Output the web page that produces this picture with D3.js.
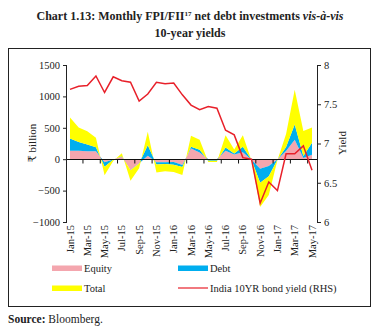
<!DOCTYPE html>
<html>
<head>
<meta charset="utf-8">
<script src="https://cdn.jsdelivr.net/npm/d3@7"></script>
<style>
  body { margin: 0; background: #fff; }
  text { font-family: "Liberation Serif", "DejaVu Serif", serif; fill: #222; }
</style>
</head>
<body>
<svg id="chart" width="380" height="331"></svg>
<script>
// monthly values, Rs billion
const months = ["Jan-15", "Feb-15", "Mar-15", "Apr-15", "May-15", "Jun-15", "Jul-15", "Aug-15", "Sep-15", "Oct-15",
    "Nov-15", "Dec-15", "Jan-16", "Feb-16", "Mar-16", "Apr-16", "May-16", "Jun-16", "Jul-16", "Aug-16",
    "Sep-16", "Oct-16", "Nov-16", "Dec-16", "Jan-17", "Feb-17", "Mar-17", "Apr-17", "May-17"];
const equity = [133, 133, 125, 125, -48, -5, 40, -172, -64, 53,
    -50, -50, -45, -92, 170, 106, 0, 0, 135, 75,
    110, -10, -153, -108, -5, 130, 310, 20, 70];
const debt = [197, 142, 110, 65, -71, -5, 5, -3, -6, 170,
    -35, -25, -45, -33, 30, 44, -25, -25, 50, 15,
    90, 0, -223, -162, -5, 65, 242, 30, 192];
const total = [335, 230, 210, 150, -136, -20, 51, -169, -75, 214,
    -127, -115, -115, -127, 175, 160, -20, -20, 195, 65,
    180, -10, -386, -300, -5, 205, 553, 400, 243];
// India 10YR bond yield, per cent (RHS)
const bondYield = [7.69, 7.73, 7.74, 7.86, 7.65, 7.85, 7.80, 7.78, 7.54, 7.63,
    7.78, 7.76, 7.77, 7.62, 7.49, 7.43, 7.47, 7.45, 7.17, 7.11,
    6.82, 6.80, 6.24, 6.51, 6.40, 6.87, 6.87, 6.97, 6.66];

const leftTicks = [-1000, -500, 0, 500, 1000, 1500];
const rightTicks = [6, 6.5, 7, 7.5, 8];
const xLabels = months.filter((m, i) => i % 2 === 0);

const seriesKeys = ["equity", "debt", "total"];
const seriesColors = { equity: "#f4a6ae", debt: "#00aeef", total: "#ffff00" };

const svg = d3.select("#chart");

const x = d3.scalePoint().domain(months).range([70, 312]);
const step = x.step();
const yLeft = d3.scaleLinear().domain([-1000, 1500]).range([222, 65]);
const yRight = d3.scaleLinear().domain([6, 8]).range([222, 65]);

// title
svg.append("text").attr("x", 190).attr("y", 20).attr("text-anchor", "middle")
    .attr("font-size", 12).attr("font-weight", "bold")
    .call(t => {
        t.append("tspan").text("Chart 1.13: Monthly FPI/FII");
        t.append("tspan").attr("font-size", 7).attr("dy", -4).text("17");
        t.append("tspan").attr("dy", 4).text(" net debt investments ");
        t.append("tspan").attr("font-style", "italic").text("vis-à-vis");
    });
svg.append("text").attr("x", 190).attr("y", 37).attr("text-anchor", "middle")
    .attr("font-size", 12).attr("font-weight", "bold").text("10-year yields");

// frame
svg.append("rect").attr("x", 8.5).attr("y", 48.5).attr("width", 362).attr("height", 258)
    .attr("fill", "none").attr("stroke", "#222").attr("stroke-width", 1);

// stacked areas
const tableData = months.map((m, i) => ({ month: m, equity: equity[i], debt: debt[i], total: total[i] }));
const stacked = d3.stack().keys(seriesKeys)(tableData);

const area = d3.area()
    .x(d => x(d.data.month))
    .y0(d => yLeft(d[0]))
    .y1(d => yLeft(d[1]));

svg.append("g").selectAll("path")
    .data(stacked)
    .join("path")
    .attr("fill", d => seriesColors[d.key])
    .attr("d", area);

// left axis
const leftAxis = svg.append("g").attr("transform", "translate(67,0)")
    .call(d3.axisLeft(yLeft).tickValues(leftTicks).tickSize(4).tickPadding(3).tickFormat(d3.format("d")));
// right axis
const rightAxis = svg.append("g").attr("transform", "translate(317,0)")
    .call(d3.axisRight(yRight).tickValues(rightTicks).tickSize(4).tickPadding(3).tickFormat(d => d));

[leftAxis, rightAxis].forEach(a => {
    a.select(".domain").attr("stroke", "#222").attr("d", a === leftAxis ? "M-0.5,65V222" : "M0.5,65V222");
    a.selectAll("line").attr("stroke", "#222");
    a.selectAll("text").attr("font-size", 10.5).attr("font-family", "Liberation Serif, serif").attr("fill", "#222");
});

// zero line with small ticks between month pairs
const zeroY = Math.round(yLeft(0)) + 0.5;
svg.append("line").attr("x1", 67).attr("x2", 317).attr("y1", zeroY).attr("y2", zeroY)
    .attr("stroke", "#111").attr("stroke-width", 1);
svg.append("g").selectAll("line")
    .data(months.filter((m, i) => i % 2 === 1 && i < months.length - 1))
    .join("line")
    .attr("x1", d => x(d) + step / 2).attr("x2", d => x(d) + step / 2)
    .attr("y1", zeroY).attr("y2", zeroY + 4)
    .attr("stroke", "#111");

// bond yield line (RHS)
const line = d3.line()
    .x((d, i) => x(months[i]))
    .y(d => yRight(d));

svg.append("path")
    .datum(bondYield)
    .attr("fill", "none")
    .attr("stroke", "#e8202a")
    .attr("stroke-width", 1.5)
    .attr("d", line);

// month labels, rotated
svg.append("g").selectAll("text")
    .data(xLabels)
    .join("text")
    .attr("transform", d => `translate(${x(d) + 3.5},225) rotate(-90)`)
    .attr("text-anchor", "end")
    .attr("font-size", 10.5)
    .text(d => d);

// axis titles
svg.append("text").attr("transform", "translate(36,143) rotate(-90)")
    .attr("text-anchor", "middle").attr("font-size", 11).text("₹ billion");
svg.append("text").attr("transform", "translate(346,143) rotate(-90)")
    .attr("text-anchor", "middle").attr("font-size", 11).text("Yield");

// legend
const legendItems = [
    { label: "Equity", color: seriesColors.equity, type: "box", x: 52, y: 268 },
    { label: "Debt", color: seriesColors.debt, type: "box", x: 178, y: 268 },
    { label: "Total", color: seriesColors.total, type: "box", x: 52, y: 288 },
    { label: "India 10YR bond yield (RHS)", color: "#e8202a", type: "line", x: 178, y: 288 }
];
const legend = svg.append("g").selectAll("g").data(legendItems).join("g")
    .attr("transform", d => `translate(${d.x},${d.y})`);
legend.filter(d => d.type === "box").append("rect")
    .attr("x", 0).attr("y", -2.5).attr("width", 30).attr("height", 5.5).attr("fill", d => d.color);
legend.filter(d => d.type === "line").append("line")
    .attr("x1", 0).attr("x2", 30).attr("y1", 0).attr("y2", 0)
    .attr("stroke", d => d.color).attr("stroke-width", 1.2);
legend.append("text").attr("x", 32).attr("y", 3.5).attr("font-size", 10.5).text(d => d.label);

// source note
svg.append("text").attr("x", 8).attr("y", 323).attr("font-size", 11.5)
    .call(t => {
        t.append("tspan").attr("font-weight", "bold").text("Source:");
        t.append("tspan").text(" Bloomberg.");
    });
</script>
</body>
</html>
